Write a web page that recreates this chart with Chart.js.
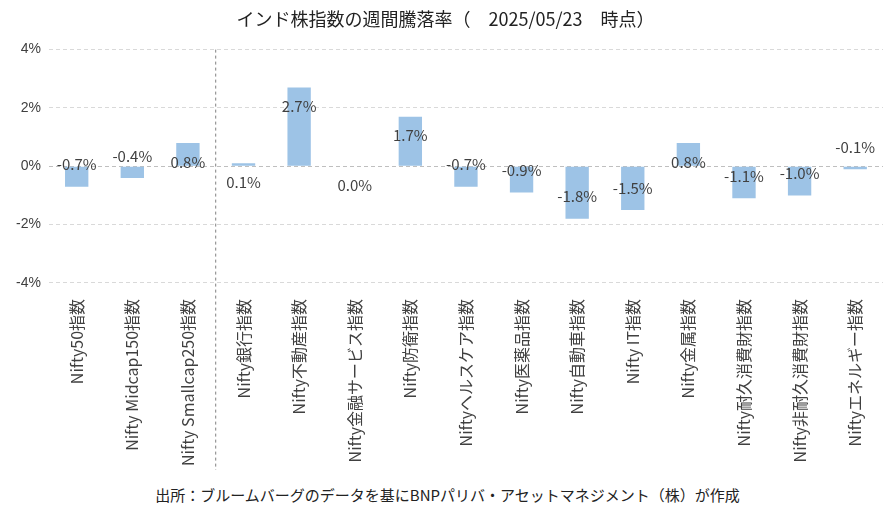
<!DOCTYPE html>
<html><head><meta charset="utf-8">
<script src="https://cdn.jsdelivr.net/npm/chart.js@4"></script>
<style>body{margin:0;background:#fff}#w{width:895px;height:515px;position:relative}
#f{position:absolute;top:484px;left:0;width:895px;text-align:center;font:15px "Noto Sans CJK JP";color:#222}</style>
</head><body><div id="w"><canvas id="c" width="895" height="474"></canvas><div id="f">出所：ブルームバーグのデータを基にBNPパリバ・アセットマネジメント（株）が作成</div></div>
<script>
const categories=["Nifty50指数","Nifty Midcap150指数","Nifty Smallcap250指数","Nifty銀行指数","Nifty不動産指数","Nifty金融サービス指数","Nifty防衛指数","Niftyヘルスケア指数","Nifty医薬品指数","Nifty自動車指数","Nifty IT指数","Nifty金属指数","Nifty耐久消費財指数","Nifty非耐久消費財指数","Niftyエネルギー指数"];
const values=[-0.7,-0.4,0.8,0.1,2.7,0.0,1.7,-0.7,-0.9,-1.8,-1.5,0.8,-1.1,-1.0,-0.1];
const tickValues=[-4,-2,0,2,4];
const labelPlugin={id:'lbl',afterDatasetsDraw(ch){const c=ch.ctx,y=ch.scales.y,x=ch.scales.x;c.save();c.font='15px "Noto Sans CJK JP"';c.fillStyle='#404040';c.textAlign='center';c.textBaseline='middle';
values.forEach((v,i)=>{const px=x.getPixelForValue(i);const py=v>=0?y.getPixelForValue(v)+19:y.getPixelForValue(v)-22;c.fillText(v.toFixed(1)+'%',px,py);});
const dx=(x.getPixelForValue(2)+x.getPixelForValue(3))/2;c.strokeStyle='#808080';c.setLineDash([3,3]);c.beginPath();c.moveTo(dx,y.top);c.lineTo(dx,ch.height-4);c.stroke();c.restore();}};
new Chart(document.getElementById('c'),{type:'bar',data:{labels:categories,datasets:[{data:values,backgroundColor:'#9DC3E6',barPercentage:0.42,categoryPercentage:1}]},
options:{responsive:false,animation:false,layout:{padding:{left:8,right:12,top:0,bottom:0}},
plugins:{legend:{display:false},tooltip:{enabled:false},title:{display:true,text:'インド株指数の週間騰落率（　2025/05/23　時点）',font:{size:18,family:'"Noto Sans CJK JP"',weight:'normal'},color:'#222',padding:{top:8,bottom:20}}},
scales:{y:{min:-4,max:4,afterBuildTicks(s){s.ticks=tickValues.map(v=>({value:v}));},ticks:{callback:v=>v+'%',font:{size:14},color:'#404040',padding:8},grid:{color:ctx=>ctx.tick.value===0?'#bfbfbf':'#d9d9d9',lineWidth:1,drawTicks:false},border:{display:false,dash:[4,3]}},
x:{grid:{display:false},border:{display:false},ticks:{minRotation:90,maxRotation:90,font:{size:16,family:'"Noto Sans CJK JP"'},color:'#404040',autoSkip:false,padding:8}}}},plugins:[labelPlugin]});
</script></body></html>
